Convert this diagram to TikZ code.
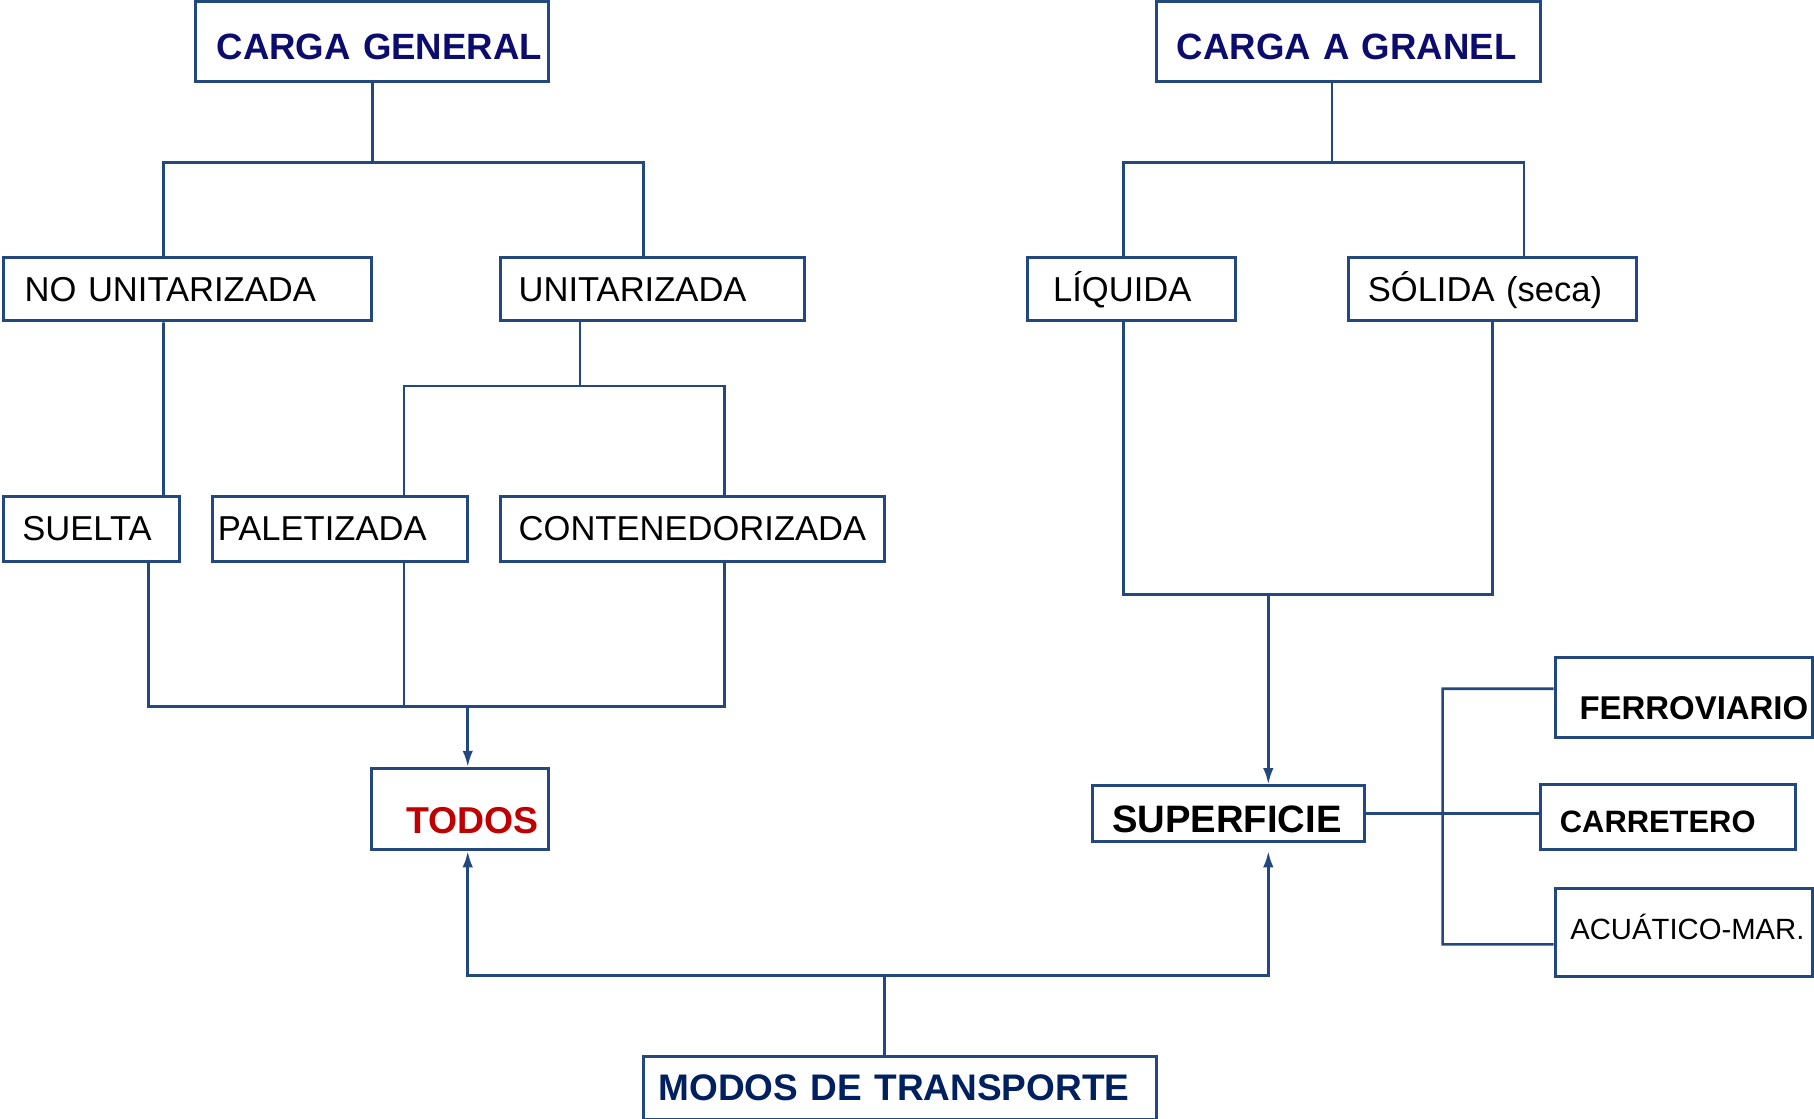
\documentclass[tikz,border=0pt]{standalone}
\usepackage{fontspec}
\setmainfont{Liberation Sans}
\usetikzlibrary{arrows.meta}
\definecolor{azul}{RGB}{35,72,125}
\definecolor{marino}{RGB}{12,12,110}
\definecolor{oscuro}{RGB}{0,32,96}
\definecolor{rojo}{RGB}{192,0,0}
\newcommand{\tam}[1]{\fontsize{#1}{#1}\selectfont}
\tikzset{
caja/.style n args={3}{draw=azul, line width=0.75pt, inner sep=0pt, anchor=north west,
  align=left, text width=#1, text height=#2, text depth=#3, font=\tam{8.5pt}},
linea/.style={draw=azul, line width=0.65pt},
flecha/.style={linea, -{Latex[length=1.4mm,width=0.9mm]}}
}

\begin{document}
\begin{tikzpicture}
\useasboundingbox (0,0) rectangle (15.68,-9.67);
% cajas
\node[caja={3.05cm}{0.50cm}{0.19cm}, font=\bfseries\tam{9pt}, text=marino] (cgen) at (1.68,0) {\hspace*{0.18cm}CARGA GENERAL};
\node[caja={3.32cm}{0.50cm}{0.19cm}, font=\bfseries\tam{9pt}, text=marino] (cgran) at (9.98,0) {\hspace*{0.18cm}CARGA A GRANEL};
\node[caja={3.18cm}{0.38cm}{0.17cm}] (nounit) at (0.02,-2.21) {\hspace*{0.18cm}NO UNITARIZADA};
\node[caja={2.63cm}{0.38cm}{0.17cm}] (unit) at (4.31,-2.21) {\hspace*{0.16cm}UNITARIZADA};
\node[caja={1.80cm}{0.38cm}{0.17cm}] (liq) at (8.87,-2.21) {\hspace*{0.22cm}LÍQUIDA};
\node[caja={2.49cm}{0.38cm}{0.17cm}] (sol) at (11.64,-2.21) {\hspace*{0.17cm}SÓLIDA (seca)};
\node[caja={1.52cm}{0.38cm}{0.18cm}] (suelta) at (0.02,-4.28) {\hspace*{0.16cm}SUELTA};
\node[caja={2.21cm}{0.38cm}{0.18cm}] (palet) at (1.82,-4.28) {\hspace*{0.05cm}PALETIZADA};
\node[caja={3.32cm}{0.38cm}{0.18cm}] (cont) at (4.31,-4.28) {\hspace*{0.16cm}CONTENEDORIZADA};
\node[caja={1.53cm}{0.56cm}{0.14cm}, font=\bfseries\tam{9.2pt}, text=rojo] (todos) at (3.20,-6.63) {\hspace*{0.30cm}TODOS};
\node[caja={2.35cm}{0.40cm}{0.08cm}, font=\bfseries\tam{9.4pt}] (sup) at (9.43,-6.78) {\hspace*{0.17cm}SUPERFICIE};
\node[caja={2.22cm}{0.54cm}{0.15cm}, font=\bfseries\tam{8.1pt}] (ferro) at (13.43,-5.67) {\hspace*{0.21cm}FERROVIARIO};
\node[caja={2.21cm}{0.41cm}{0.15cm}, font=\bfseries\tam{7.6pt}] (carr) at (13.30,-6.77) {\hspace*{0.17cm}CARRETERO};
\node[caja={2.22cm}{0.44cm}{0.32cm}, font=\tam{7.2pt}] (acu) at (13.43,-7.67) {\hspace*{0.13cm}ACUÁTICO-MAR.};
\node[caja={4.43cm}{0.38cm}{0.16cm}, font=\bfseries\tam{9.1pt}, text=oscuro] (modos) at (5.55,-9.12) {\hspace*{0.13cm}MODOS DE TRANSPORTE};

% carga general
\draw[linea] (cgen.south) -- ++(0,-0.69) coordinate (b1);
\draw[linea] ([xshift=-0.21cm]nounit.north) |- (b1) -| ([xshift=-0.075cm]unit.north);
\draw[linea] ([xshift=-0.21cm]nounit.south) -- ([xshift=0.62cm]suelta.north);
\draw[linea] ([xshift=-0.625cm]unit.south) -- ++(0,-0.55) coordinate (b2);
\draw[linea] ([xshift=0.555cm]palet.north) |- (b2) -| ([xshift=0.28cm]cont.north);
\draw[linea] ([xshift=0.49cm]suelta.south) -- ++(0,-1.24) coordinate (b4) -| ([xshift=0.28cm]cont.south);
\draw[linea] ([xshift=0.555cm]palet.south) -- ++(0,-1.24);
\coordinate (t1) at ([xshift=0.065cm]todos.north);
\draw[flecha] (t1 |- b4) -- (t1);

% carga a granel
\draw[linea] ([xshift=-0.14cm]cgran.south) -- ++(0,-0.69) coordinate (b6);
\draw[linea] ([xshift=-0.07cm]liq.north) |- (b6) -| ([xshift=0.275cm]sol.north);
\draw[linea] ([xshift=-0.07cm]liq.south) -- ++(0,-2.35) coordinate (b5) -| (sol.south);
\coordinate (s1) at ([xshift=0.345cm]sup.north);
\draw[flecha] (s1 |- b5) -- (s1);

% modos
\draw[linea] ([xshift=-0.135cm]modos.north) -- ++(0,0.69) coordinate (b3);
\draw[flecha] (b3) -| ([xshift=0.065cm]todos.south);
\draw[flecha] (b3) -| ([xshift=0.345cm,yshift=-0.07cm]sup.south);

% superficie
\draw[linea] (sup.east) -- (sup.east -| carr.west);
\draw[linea] ([yshift=0.075cm]ferro.west) -- ++(-0.96,0) -- ++(0,-2.21) -- ([yshift=-0.10cm]acu.west);
\end{tikzpicture}
\end{document}
